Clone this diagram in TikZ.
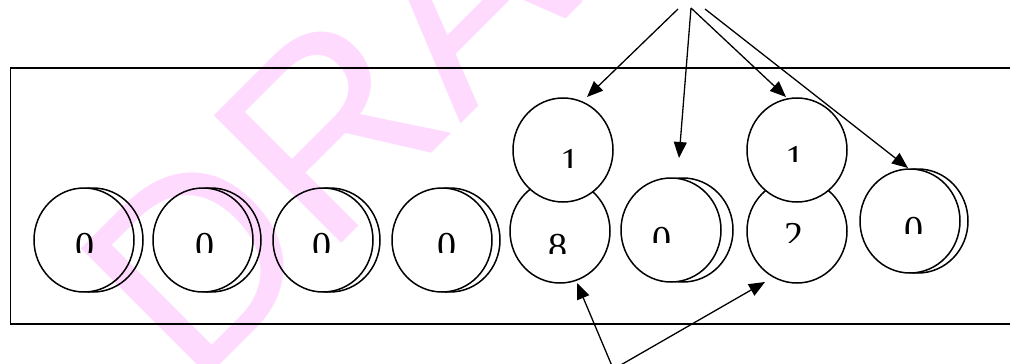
\documentclass[tikz,border=0pt]{standalone}
\usepackage{fontspec}
\setmainfont{Liberation Serif}
\newfontfamily\wmfont{Liberation Sans}
\usetikzlibrary{arrows.meta,shapes.geometric}
\definecolor{wmpink}{RGB}{255,218,255}
\begin{document}
\begin{tikzpicture}[x=1pt,y=-1pt,
  coin/.style={ellipse, draw, line width=1.5pt, inner sep=0pt,
               minimum width=100pt, minimum height=104pt},
  dig/.style={inner sep=0pt, anchor=north, font=\fontsize{38}{40}\selectfont},
  arr/.style={line width=1.3pt, -{Triangle[length=16pt,width=13pt]}},
  frame/.style={draw, line width=1.5pt},
  wm/.style={inner sep=0pt, anchor=base west, rotate=45, text=wmpink,
             font=\wmfont\fontsize{262}{300}\selectfont}]
\useasboundingbox (0,0) rectangle (1010,364);
\fill[white] (0,0) rectangle (1010,364);
% watermark
\node[wm] (wmark) at (193,392) {DRAFT};
% frame
\draw[frame] (10.5,68) rectangle (1030,324);
% a coin seen behind another: hide the part inside the front one
\newcommand\behind[4]{% name, centre of hidden coin, (unused), centre of front coin
  \begin{scope}[even odd rule]
    \clip (-50,-50) rectangle (1100,420) #4 ellipse [x radius=50pt, y radius=52pt];
    \node[coin] (#1) at #2 {};
  \end{scope}}
% back coins
\behind{b1}{(93,240)}{}{(84,240)}
\behind{b2}{(211,240)}{}{(203,240)}
\behind{b3}{(330,240)}{}{(323,240)}
\behind{b4}{(450,240)}{}{(442,240)}
\behind{b6}{(683,230)}{}{(671,230)}
\behind{b8}{(918,221)}{}{(910,221)}
% lower coins of the stacks
\behind{c5}{(560,231)}{}{(563,150)}
\behind{c7}{(797,231)}{}{(797,150)}
% front coins
\node[coin] (c1) at (84,240) {};
\node[coin] (c2) at (203,240) {};
\node[coin] (c3) at (323,240) {};
\node[coin] (c4) at (442,240) {};
\node[coin] (c6) at (671,230) {};
\node[coin] (c8) at (910,221) {};
% top coins
\node[coin] (t1) at (563,150) {};
\node[coin] (t2) at (797,150) {};
% digits (cut at the bottom as in the picture)
\newcommand\cutdigit[5]{%
  \begin{scope}
    \clip (#2-25,#3-6) rectangle (#2+25,#4);
    \node[dig] (#1) at (#2,#3) {#5};
  \end{scope}}
\cutdigit{d1}{85}{233}{252}{0}
\cutdigit{d2}{205}{233}{252}{0}
\cutdigit{d3}{322}{233}{252}{0}
\cutdigit{d4}{447}{233}{252}{0}
\cutdigit{d5}{558}{234}{253}{8}
\cutdigit{d6}{662}{227}{242}{0}
\cutdigit{d7}{794}{223}{242}{2}
\cutdigit{d8}{914}{217}{233}{0}
\cutdigit{e1}{570}{149}{167}{1}
\cutdigit{e2}{795}{146}{161}{1}
% arrows
\coordinate (s1) at (678,9);
\coordinate (s2) at (691,8);
\coordinate (s4) at (705,9);
\coordinate (p1) at (587,97);
\coordinate (p2) at (679,158);
\coordinate (p3) at (786,97);
\coordinate (p4) at (908,168);
\draw[arr] (s1) -- (p1);
\draw[arr] (s2) -- (p2);
\draw[arr] (s2) -- (p3);
\draw[arr] (s4) -- (p4);
\coordinate (u1) at (612,366);
\coordinate (u2) at (619,366);
\coordinate (q1) at (577,283);
\coordinate (q2) at (765,282);
\draw[arr] (u1) -- (q1);
\draw[arr] (u2) -- (q2);
\end{tikzpicture}
\end{document}
